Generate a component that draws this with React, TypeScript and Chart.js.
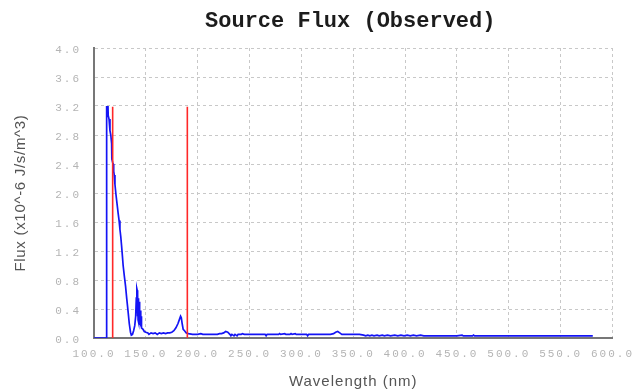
import React, { useEffect, useRef } from "react";
import { Chart, registerables } from "chart.js";

Chart.register(...registerables);

const TITLE = "Source Flux (Observed)";
const X_TITLE = "Wavelength (nm)";
const Y_TITLE = "Flux (x10^-6 J/s/m^3)";

const X_MIN = 100;
const X_MAX = 600;
const X_STEP = 50;
const Y_MIN = 0;
const Y_MAX = 4;
const Y_STEP = 0.4;

// observed spectrum: wavelength (nm)
const wavelengths = [
  100, 112.0, 112.2, 113.5, 113.7, 114.5, 115.4, 116.2, 117.0, 117.2, 118.0, 118.6, 119.0, 119.5,
  120.2, 121.1, 122.4, 123.3, 124.2, 125.0, 125.8, 126.6, 127.4, 128.1, 129.2, 130.4, 131.6, 132.9,
  134.0, 135.2, 136.0, 137.1, 138.2, 139.3, 140.2, 140.8, 141.3, 141.6, 141.9, 142.2, 142.5, 142.8,
  143.1, 143.4, 143.7, 144.0, 144.3, 144.7, 145.1, 145.5, 145.8, 147.3, 148.5, 150, 152, 153, 155,
  157, 159, 161, 163, 165, 167, 169, 171, 173, 175, 177, 179, 181, 182.5, 183.5, 184.2, 185, 186,
  187.3, 189, 191, 195, 200, 203, 205, 210, 215, 219, 221, 223, 225, 227, 229, 231, 232, 233, 235,
  236, 238, 239, 242, 243, 245, 250, 255, 260, 265, 266, 267, 272, 278, 279, 280, 284, 285, 289,
  290, 291, 294, 295, 300, 305, 306, 307, 312, 320, 328, 331, 333, 335, 337, 339, 345, 350, 356,
  360, 362, 364, 366, 368, 370, 373, 375, 378, 380, 383, 386, 390, 393, 396, 399, 402, 405, 408,
  411, 415, 418, 430, 440, 450, 455, 456, 465, 466, 467, 480, 500, 520, 540, 560, 581,
];

// observed spectrum: flux (x10^-6 J/s/m^3)
const fluxValues = [
  0, 0, 3.19, 3.19, 3.07, 3.02, 2.86, 2.8, 2.68, 2.47, 2.42, 2.4, 2.3, 2.25,
  2.12, 1.99, 1.83, 1.72, 1.62, 1.5, 1.4, 1.27, 1.13, 1.0, 0.86, 0.72, 0.54, 0.36,
  0.2, 0.08, 0.04, 0.05, 0.1, 0.17, 0.3, 0.55, 0.68, 0.66, 0.3, 0.6, 0.25, 0.55,
  0.22, 0.5, 0.2, 0.45, 0.18, 0.38, 0.16, 0.3, 0.14, 0.12, 0.09, 0.08, 0.07, 0.05, 0.07,
  0.06, 0.07, 0.05, 0.07, 0.06, 0.07, 0.06, 0.07, 0.07, 0.08, 0.1, 0.14, 0.2, 0.26, 0.3, 0.28, 0.2, 0.12,
  0.1, 0.07, 0.06, 0.05, 0.05, 0.06, 0.05, 0.05, 0.05, 0.05, 0.06, 0.06, 0.07, 0.09, 0.08, 0.05, 0.03, 0.05, 0.03,
  0.05, 0.03, 0.05, 0.05, 0.06, 0.05, 0.05, 0.05, 0.05, 0.05, 0.03, 0.05, 0.05, 0.05, 0.06, 0.05, 0.06, 0.05, 0.05,
  0.06, 0.05, 0.06, 0.05, 0.05, 0.05, 0.03, 0.05, 0.05, 0.05, 0.05, 0.06, 0.08, 0.09, 0.07, 0.05, 0.05, 0.05, 0.05,
  0.04, 0.03, 0.04, 0.03, 0.04, 0.03, 0.04, 0.03, 0.04, 0.03, 0.04, 0.03, 0.04, 0.03, 0.04, 0.03, 0.04, 0.03, 0.04,
  0.03, 0.04, 0.03, 0.03, 0.03, 0.03, 0.04, 0.03, 0.03, 0.04, 0.03, 0.03, 0.03, 0.03, 0.03, 0.03, 0.03,
];

// red vertical markers (nm) and their height
const markerWavelengths = [118, 190];
const markerHeight = 3.19;

const textPlugin = {
  id: "sketchTexts",
  beforeDraw(chart: any) {
    chart.ctx.letterSpacing = "2px";
  },
  afterDraw(chart: any) {
    const ctx = chart.ctx as CanvasRenderingContext2D;
    const a = chart.chartArea;
    const cx = (a.left + a.right) / 2;
    const cy = (a.top + a.bottom) / 2;
    ctx.save();
    ctx.letterSpacing = "0px";
    ctx.fillStyle = "#1c1c1c";
    ctx.font = 'bold 22px "Liberation Mono"';
    ctx.textAlign = "center";
    ctx.textBaseline = "alphabetic";
    ctx.fillText(TITLE, cx - 3, 27);

    ctx.fillStyle = "#555555";
    ctx.letterSpacing = "1px";
    ctx.font = '15px "Liberation Sans"';
    ctx.fillText(X_TITLE, cx, 386);

    ctx.letterSpacing = "0.7px";
    ctx.translate(25, cy);
    ctx.rotate(-Math.PI / 2);
    ctx.fillText(Y_TITLE, 0, 0);
    ctx.restore();
    ctx.letterSpacing = "0px";
  },
};

export default function App() {
  const ref = useRef<HTMLCanvasElement | null>(null);

  useEffect(() => {
    const canvas = ref.current;
    if (!canvas) return;
    const spectrum = wavelengths.map((x, i) => ({ x, y: fluxValues[i] }));
    const markers = markerWavelengths.map((w) => [
      { x: w, y: 0 },
      { x: w, y: markerHeight },
    ]);
    const tickFont = { family: '"Liberation Mono"', size: 11 };
    const chart = new Chart(canvas, {
      type: "line",
      data: {
        datasets: [
          ...markers.map((m, i) => ({
            label: "marker " + (i + 1),
            data: m,
            borderColor: "rgb(255,40,40)",
            borderWidth: 1.6,
            pointRadius: 0,
            fill: false,
          })),
          {
            label: "Flux",
            data: spectrum,
            borderColor: "rgb(20,20,245)",
            borderWidth: 1.7,
            pointRadius: 0,
            fill: false,
            tension: 0,
          },
        ],
      },
      options: {
        responsive: false,
        animation: false,
        devicePixelRatio: 1,
        layout: { padding: { left: 0, right: 23, top: 48, bottom: 0 } },
        plugins: {
          legend: { display: false },
          title: { display: false },
          tooltip: { enabled: false },
        },
        scales: {
          x: {
            type: "linear",
            min: X_MIN,
            max: X_MAX,
            afterFit: (s: any) => {
              s.height = 53;
            },
            ticks: {
              stepSize: X_STEP,
              color: "#b4b4b4",
              font: tickFont,
              padding: 9,
              maxRotation: 0,
              autoSkip: false,
              callback: (v: any) => Number(v).toFixed(1),
            },
            grid: { color: "#c8c8c8", lineWidth: 1, drawTicks: false },
            border: { display: true, color: "#777777", width: 2, dash: [3, 3] },
          },
          y: {
            type: "linear",
            min: Y_MIN,
            max: Y_MAX,
            afterFit: (s: any) => {
              s.width = 94;
            },
            ticks: {
              stepSize: Y_STEP,
              color: "#b4b4b4",
              font: tickFont,
              padding: 13,
              labelOffset: 2,
              autoSkip: false,
              callback: (v: any) => Number(v).toFixed(1),
            },
            grid: { color: "#c8c8c8", lineWidth: 1, drawTicks: false },
            border: { display: true, color: "#777777", width: 2, dash: [3, 3] },
          },
        },
      },
      plugins: [textPlugin],
    } as any);
    return () => chart.destroy();
  }, []);

  return (
    <div style={{ position: "absolute", left: 0, top: 0, width: 638, height: 391, background: "#fff" }}>
      <canvas ref={ref} width={638} height={391} style={{ display: "block" }} />
    </div>
  );
}
